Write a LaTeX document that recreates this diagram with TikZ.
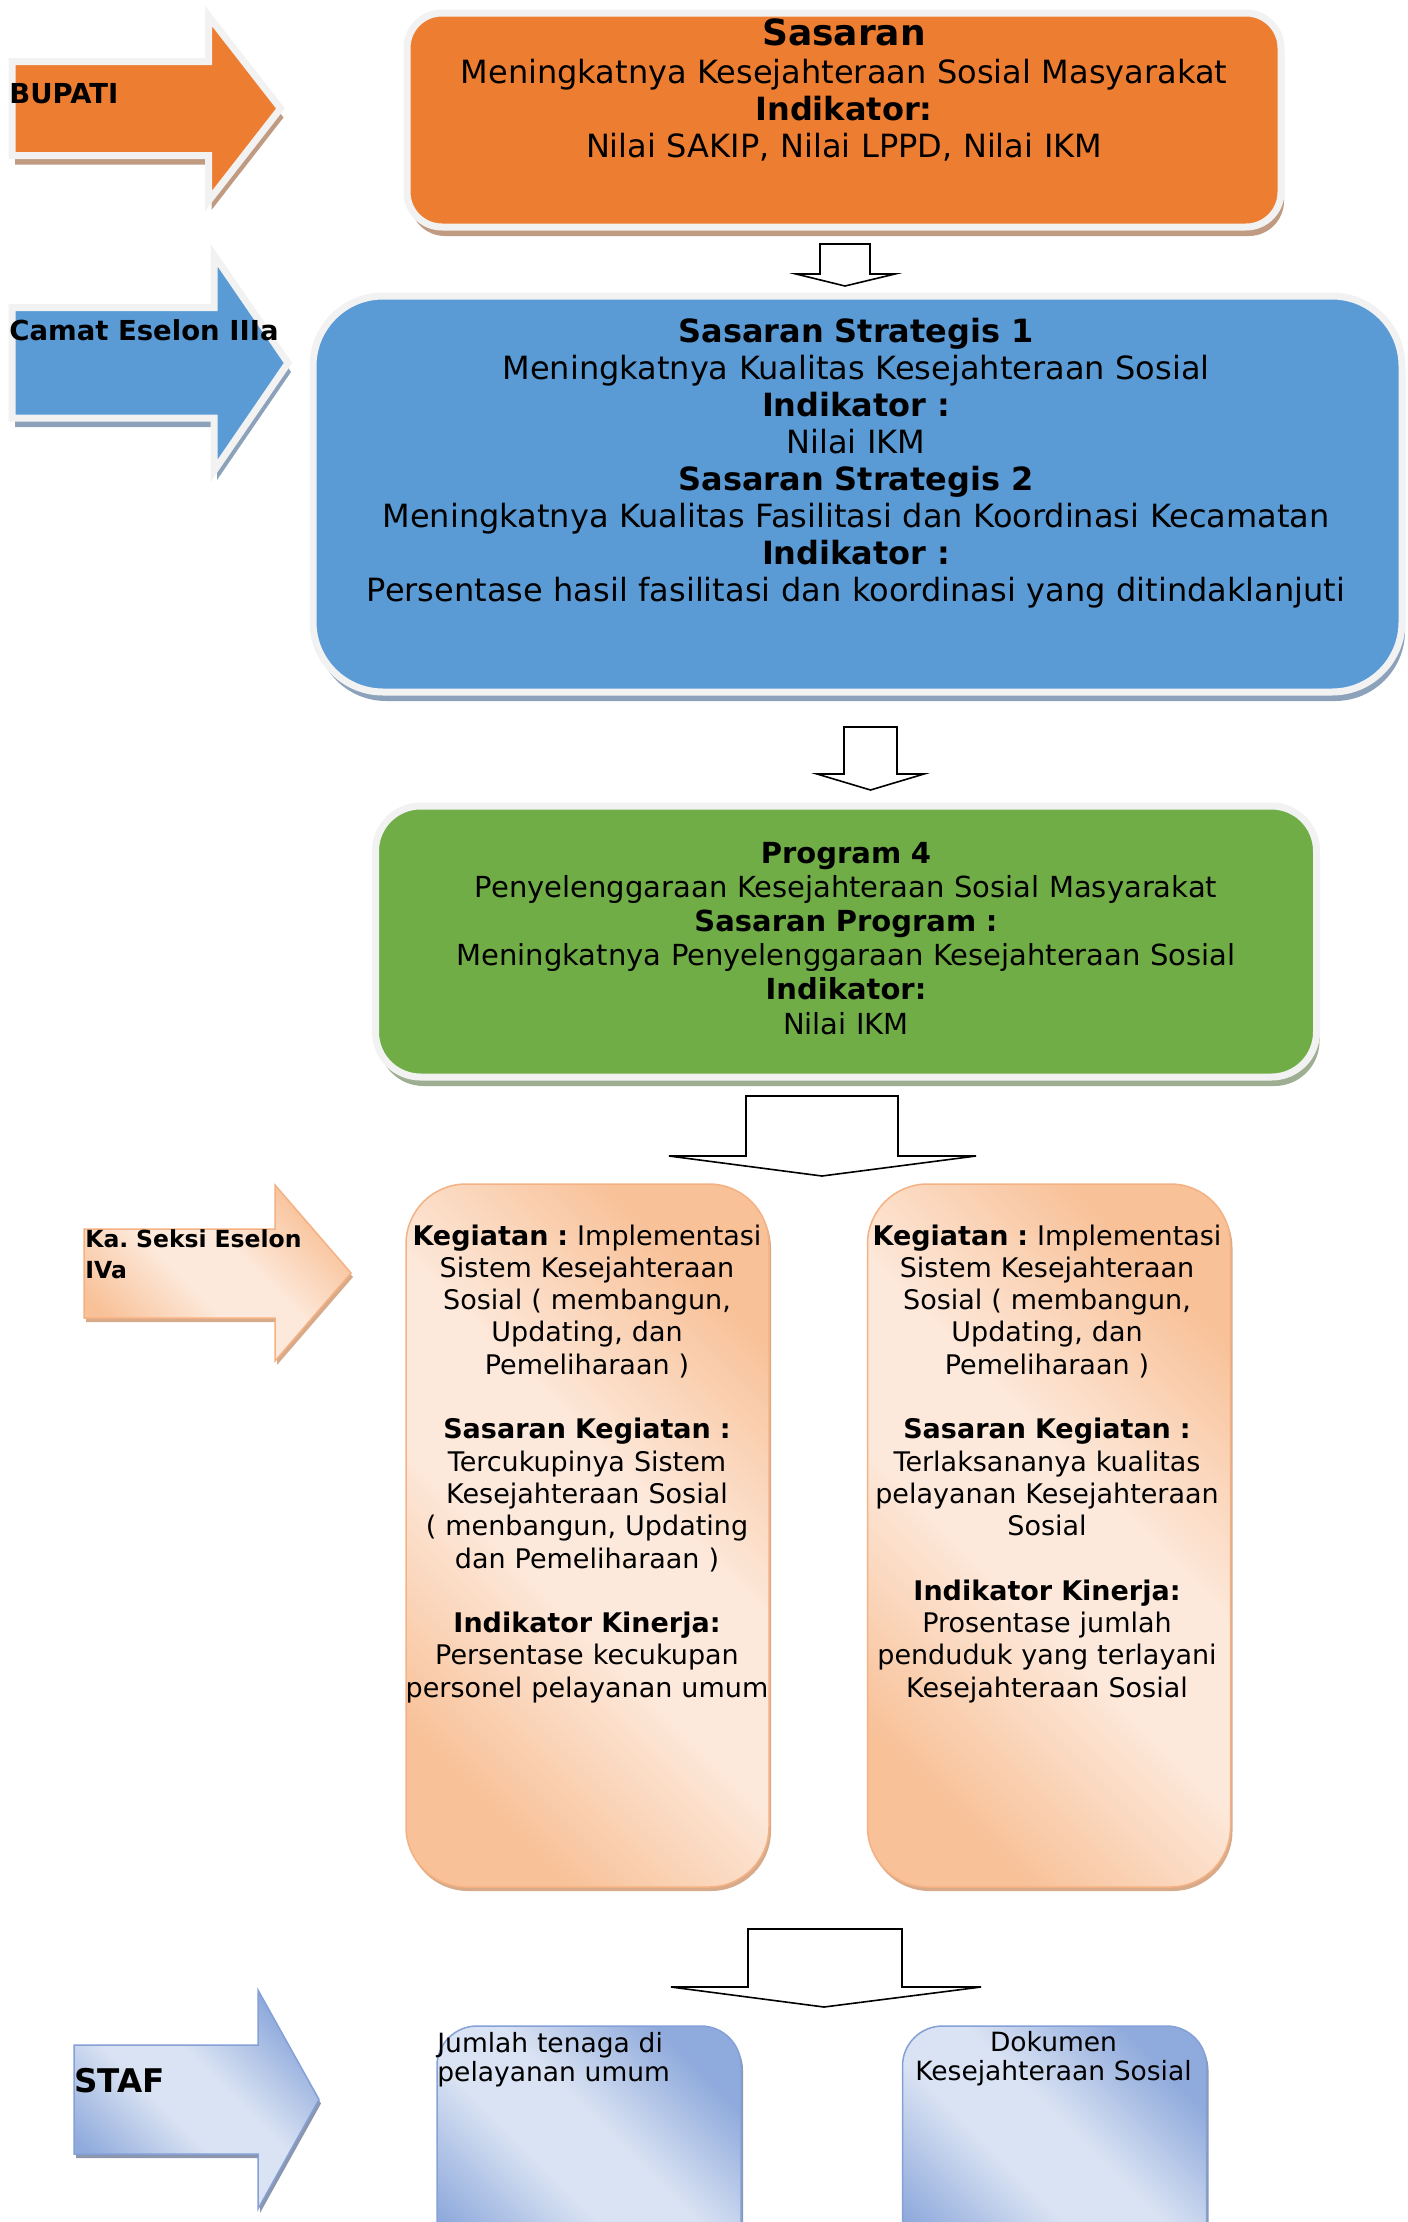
\documentclass[tikz,border=0pt]{standalone}
\usepackage{fontspec}
\setmainfont{DejaVu Sans}
\usetikzlibrary{positioning}
\usetikzlibrary{shadows}
\definecolor{sasaranorange}{HTML}{ED7D31}
\definecolor{strategisblue}{HTML}{5B9BD5}
\definecolor{programgreen}{HTML}{70AD47}
\definecolor{framegray}{HTML}{F2F2F2}
\definecolor{orangeshadow}{RGB}{192,155,130}
\definecolor{blueshadow}{RGB}{140,162,186}
\definecolor{greenshadow}{RGB}{158,174,146}
\definecolor{peachdark}{RGB}{248,193,152}
\definecolor{peachlight}{RGB}{253,233,219}
\definecolor{peachline}{RGB}{244,177,131}
\definecolor{peachshadow}{RGB}{215,170,138}
\definecolor{staffdark}{RGB}{143,170,220}
\definecolor{stafflight}{RGB}{218,227,243}
\definecolor{staffline}{RGB}{132,160,214}
\definecolor{staffshadow}{RGB}{140,150,172}
\pgfdeclareverticalshading{peachband}{100bp}{color(0bp)=(peachdark); color(25bp)=(peachdark);
  color(44bp)=(peachlight); color(56bp)=(peachlight); color(75bp)=(peachdark); color(100bp)=(peachdark)}
\pgfdeclareverticalshading{staffband}{100bp}{color(0bp)=(staffdark); color(25bp)=(staffdark);
  color(44bp)=(stafflight); color(56bp)=(stafflight); color(75bp)=(staffdark); color(100bp)=(staffdark)}
\tikzset{
  levelbox/.style={draw=framegray, line width=3.5pt,
    drop shadow={shadow xshift=1.5pt, shadow yshift=-4.5pt, opacity=1, fill=#1}},
  levelarrow/.style={draw=framegray, line width=3.5pt,
    drop shadow={shadow xshift=1.5pt, shadow yshift=-4.5pt, opacity=1, fill=#1}},
  peachfill/.style={draw=peachline, line width=0.75pt, shading=peachband, shading angle=-45,
    drop shadow={shadow xshift=1pt, shadow yshift=-2pt, opacity=1, fill=peachshadow}},
  stafffill/.style={draw=staffline, line width=0.75pt, shading=staffband, shading angle=-45,
    drop shadow={shadow xshift=1pt, shadow yshift=-2pt, opacity=1, fill=staffshadow}},
  boxtext/.style={inner sep=0pt, align=center, anchor=base},
  leveltext/.style={inner sep=0pt, anchor=base west, font=\bfseries\fontsize{13.75}{16}\selectfont},
  flowarrow/.style={draw=black, fill=white, line width=0.8pt}
  }

\begin{document}
\frenchspacing
\begin{tikzpicture}[x=0.5pt, y=-0.5pt]
	% Frame
	\clip (0,0) rectangle (1408,2222);

	% Nodes
	\node[levelbox=orangeshadow, fill=sasaranorange, rounded corners=17.5pt,
	  minimum width=437pt, minimum height=107pt] (sasaran) at (844,120) {};
	\node[levelbox=blueshadow, fill=strategisblue, rounded corners=35pt,
	  minimum width=544.5pt, minimum height=198pt] (strategis) at (857.5,494) {};
	\node[levelbox=greenshadow, fill=programgreen, rounded corners=22.5pt,
	  minimum width=470.5pt, minimum height=135.5pt] (program) at (846,941.5) {};
	\node[peachfill, rounded corners=30pt, minimum width=181.5pt, minimum height=351.5pt] (kegiatanA) at (587.5,1535.5) {};
	\node[peachfill, rounded corners=30pt, minimum width=181.5pt, minimum height=351.5pt, right=48.5pt of kegiatanA] (kegiatanB) {};
	\node[stafffill, rounded corners=20pt, minimum width=152pt, minimum height=137pt] (stafA) at (589,2163) {};
	\node[stafffill, rounded corners=20pt, minimum width=152pt, minimum height=137pt, right=80pt of stafA] (stafB) {};

	% Texts
	\node[boxtext, text width=430pt, font=\fontsize{16}{18.5}\selectfont] (sasarantext) at (844,45)
	  {{\fontsize{18}{18.5}\selectfont\bfseries Sasaran}\\[0.5pt]
	   Meningkatnya Kesejahteraan Sosial Masyarakat\\
	   \textbf{Indikator:}\\
	   Nilai SAKIP, Nilai LPPD, Nilai IKM};
	\node[boxtext, text width=560pt, font=\fontsize{16}{18.55}\selectfont] (strategistext) at (856,342)
	  {\textbf{Sasaran Strategis 1}\\
	   Meningkatnya Kualitas Kesejahteraan Sosial\\
	   \textbf{Indikator :}\\
	   Nilai IKM\\
	   \textbf{Sasaran Strategis 2}\\
	   Meningkatnya Kualitas Fasilitasi dan Koordinasi Kecamatan\\
	   \textbf{Indikator :}\\
	   Persentase hasil fasilitasi dan koordinasi yang ditindaklanjuti};
	\node[boxtext, text width=460pt, font=\fontsize{14.5}{17.1}\selectfont] (programtext) at (846,863)
	  {\textbf{Program 4}\\
	   Penyelenggaraan Kesejahteraan Sosial Masyarakat\\
	   \textbf{Sasaran Program :}\\
	   Meningkatnya Penyelenggaraan Kesejahteraan Sosial\\
	   \textbf{Indikator:}\\
	   Nilai IKM};
	\node[boxtext, text width=200pt, font=\fontsize{13.5}{16.15}\selectfont] (kegiatanAtext) at (587,1245)
	  {\textbf{Kegiatan :} Implementasi\\ Sistem Kesejahteraan\\ Sosial ( membangun,\\ Updating, dan\\ Pemeliharaan )\\[16.15pt]
	   \textbf{Sasaran Kegiatan :}\\ Tercukupinya Sistem\\ Kesejahteraan Sosial\\ ( menbangun, Updating\\ dan Pemeliharaan )\\[16.15pt]
	   \textbf{Indikator Kinerja:}\\ Persentase kecukupan\\ personel pelayanan umum};
	\node[boxtext, text width=200pt, font=\fontsize{13.5}{16.15}\selectfont] (kegiatanBtext) at (1047,1245)
	  {\textbf{Kegiatan :} Implementasi\\ Sistem Kesejahteraan\\ Sosial ( membangun,\\ Updating, dan\\ Pemeliharaan )\\[16.15pt]
	   \textbf{Sasaran Kegiatan :}\\ Terlaksananya kualitas\\ pelayanan Kesejahteraan\\ Sosial\\[16.15pt]
	   \textbf{Indikator Kinerja:}\\ Prosentase jumlah\\ penduduk yang terlayani\\ Kesejahteraan Sosial};
	\node[inner sep=0pt, anchor=base west, align=left, text width=170pt, font=\fontsize{13.25}{14.75}\selectfont] (stafAtext) at (437,2052)
	  {Jumlah tenaga di\\ pelayanan umum};
	\node[boxtext, text width=170pt, font=\fontsize{13.25}{14.75}\selectfont] (stafBtext) at (1053.5,2051)
	  {Dokumen\\ Kesejahteraan Sosial};

	% Level arrows
	\draw[levelarrow=orangeshadow, fill=sasaranorange] (12,61.5) -- (208.5,61.5) -- (208.5,16) -- (280.5,108.5)
	  -- (208.5,201) -- (208.5,155.5) -- (12,155.5) -- cycle;
	\draw[levelarrow=blueshadow, fill=strategisblue] (12,307.5) -- (214,307.5) -- (214,255) -- (288,363)
	  -- (214,471) -- (214,418) -- (12,418) -- cycle;
	\draw[peachfill] (84,1229) -- (275,1229) -- (275,1185) -- (351,1273)
	  -- (275,1361) -- (275,1318) -- (84,1318) -- cycle;
	\draw[stafffill] (74,2045) -- (258,2045) -- (258,1990) -- (319,2099.5)
	  -- (258,2209) -- (258,2154) -- (74,2154) -- cycle;

	\node[leveltext] (bupati) at (9,103) {BUPATI};
	\node[leveltext] (camat) at (9,340) {Camat Eselon IIIa};
	\node[leveltext, align=left, text width=150pt, font=\bfseries\fontsize{11.75}{15.5}\selectfont] (kasi) at (85,1247) {Ka. Seksi Eselon\\ IVa};
	\node[leveltext, font=\bfseries\fontsize{16.3}{19}\selectfont] (staf) at (74,2092) {STAF};

	% Arrow
	\draw[flowarrow] (820,244) -- (870,244) -- (870,274) -- (895,274) -- (845,286) -- (796,274) -- (820,274) -- cycle;
	\draw[flowarrow] (844,727) -- (897,727) -- (897,774) -- (924,774) -- (870.5,790) -- (817,774) -- (844,774) -- cycle;
	\draw[flowarrow] (746,1096) -- (898,1096) -- (898,1156) -- (976,1156) -- (822,1176) -- (669,1156) -- (746,1156) -- cycle;
	\draw[flowarrow] (748,1929) -- (902,1929) -- (902,1987) -- (981,1987) -- (824,2007) -- (671,1987) -- (748,1987) -- cycle;
\end{tikzpicture}
\end{document}
